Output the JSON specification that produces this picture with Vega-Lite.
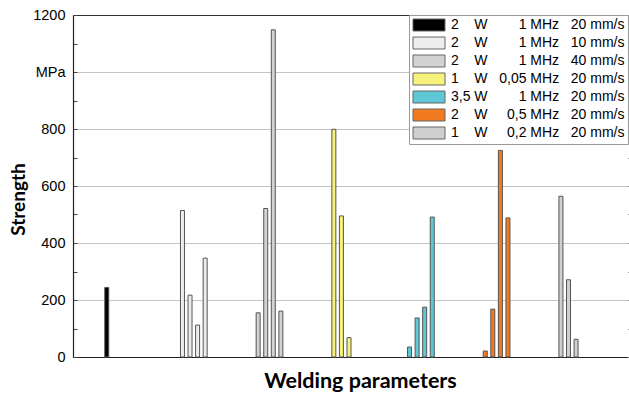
{
  "$schema": "https://vega.github.io/schema/vega-lite/v6.json",
  "width": 555,
  "height": 342,
  "autosize": {"type": "none"},
  "padding": {"left": 73, "top": 15, "right": 1, "bottom": 37},
  "background": "white",
  "config": {"view": {"stroke": null}, "font": "Liberation Sans"},
  "data": {
    "values": [
      {"setting": "2 W 1 MHz 20 mm/s", "slot": 4, "strength": 244},
      {"setting": "2 W 1 MHz 10 mm/s", "slot": 14, "strength": 514},
      {"setting": "2 W 1 MHz 10 mm/s", "slot": 15, "strength": 217},
      {"setting": "2 W 1 MHz 10 mm/s", "slot": 16, "strength": 112},
      {"setting": "2 W 1 MHz 10 mm/s", "slot": 17, "strength": 347},
      {"setting": "2 W 1 MHz 40 mm/s", "slot": 24, "strength": 155},
      {"setting": "2 W 1 MHz 40 mm/s", "slot": 25, "strength": 521},
      {"setting": "2 W 1 MHz 40 mm/s", "slot": 26, "strength": 1148},
      {"setting": "2 W 1 MHz 40 mm/s", "slot": 27, "strength": 161},
      {"setting": "1 W 0,05 MHz 20 mm/s", "slot": 34, "strength": 799},
      {"setting": "1 W 0,05 MHz 20 mm/s", "slot": 35, "strength": 495},
      {"setting": "1 W 0,05 MHz 20 mm/s", "slot": 36, "strength": 68},
      {"setting": "3,5 W 1 MHz 20 mm/s", "slot": 44, "strength": 35},
      {"setting": "3,5 W 1 MHz 20 mm/s", "slot": 45, "strength": 137},
      {"setting": "3,5 W 1 MHz 20 mm/s", "slot": 46, "strength": 175},
      {"setting": "3,5 W 1 MHz 20 mm/s", "slot": 47, "strength": 491},
      {"setting": "2 W 0,5 MHz 20 mm/s", "slot": 54, "strength": 21},
      {"setting": "2 W 0,5 MHz 20 mm/s", "slot": 55, "strength": 168},
      {"setting": "2 W 0,5 MHz 20 mm/s", "slot": 56, "strength": 725},
      {"setting": "2 W 0,5 MHz 20 mm/s", "slot": 57, "strength": 488},
      {"setting": "1 W 0,2 MHz 20 mm/s", "slot": 64, "strength": 564},
      {"setting": "1 W 0,2 MHz 20 mm/s", "slot": 65, "strength": 271},
      {"setting": "1 W 0,2 MHz 20 mm/s", "slot": 66, "strength": 62}
    ]
  },
  "layer": [
    {
      "mark": {"type": "bar", "size": 4, "stroke": "#555", "strokeWidth": 1},
      "encoding": {
        "x": {
          "field": "slot",
          "type": "quantitative",
          "scale": {"domain": [0.2, 72.2], "nice": false, "zero": false},
          "axis": {
            "title": "Welding parameters",
            "labels": false,
            "ticks": false,
            "grid": false,
            "domainColor": "#222",
            "domainWidth": 1.2,
            "titleFont": "Lato",
            "titleFontWeight": "bold",
            "titleFontSize": 21.5,
            "titleColor": "#000",
            "titleX": 287,
            "titleY": 24,
            "titleAlign": "center",
            "titleBaseline": "middle"
          }
        },
        "y": {
          "field": "strength",
          "type": "quantitative",
          "scale": {"domain": [0, 1200], "nice": false},
          "axis": {
            "title": "Strength",
            "values": [0, 100, 200, 300, 400, 500, 600, 700, 800, 900, 1000, 1100, 1200],
            "format": "d",
            "labelExpr": "datum.value % 200 != 0 ? '' : (datum.value == 1000 ? 'MPa' : datum.label)",
            "labelFont": "Liberation Sans",
            "labelFontSize": 14.5,
            "labelColor": "#000",
            "labelPadding": 12,
            "tickSize": -4,
            "tickColor": "#444",
            "domainColor": "#222",
            "domainWidth": 1.2,
            "grid": true,
            "gridColor": {"condition": {"test": "datum.value == 1200", "value": "#333"}, "value": "#c4c4c4"},
            "gridOpacity": {"condition": {"test": "datum.value % 200 == 0 && datum.value > 0", "value": 1}, "value": 0},
            "titleFont": "Lato",
            "titleFontWeight": "bold",
            "titleFontSize": 19,
            "titleColor": "#000",
            "titleX": -55,
            "titleY": 184,
            "titleAngle": -90,
            "titleAlign": "center",
            "titleBaseline": "middle"
          }
        },
        "fill": {
          "field": "setting",
          "type": "nominal",
          "scale": {
            "domain": ["2 W 1 MHz 20 mm/s", "2 W 1 MHz 10 mm/s", "2 W 1 MHz 40 mm/s", "1 W 0,05 MHz 20 mm/s", "3,5 W 1 MHz 20 mm/s", "2 W 0,5 MHz 20 mm/s", "1 W 0,2 MHz 20 mm/s"],
            "range": ["#000000", "#ededed", "#d2d2d2", "#f6f27c", "#5ec8d6", "#f27b22", "#cfcfcf"]
          },
          "legend": {
            "title": null,
            "orient": "top-right",
            "offset": 0,
            "padding": 3,
            "strokeColor": "#999",
            "fillColor": "white",
            "symbolType": "M-2.667,-1H2.667V1H-2.667Z",
            "symbolSize": 144,
            "symbolOffset": 10,
            "symbolStrokeColor": "#666",
            "symbolStrokeWidth": 1,
            "labelFont": "Liberation Sans",
            "labelFontSize": 14,
            "labelColor": "#000",
            "labelOffset": 15,
            "labelLimit": 300,
            "rowPadding": 2,
            "labelExpr": "datum.label == '2 W 1 MHz 20 mm/s' ? '2\u00a0\u00a0\u00a0\u00a0W\u00a0\u00a0\u00a0\u00a0\u00a0\u00a0\u00a0\u00a01\u00a0MHz\u00a0\u00a0\u00a020\u00a0mm/s' : datum.label == '2 W 1 MHz 10 mm/s' ? '2\u00a0\u00a0\u00a0\u00a0W\u00a0\u00a0\u00a0\u00a0\u00a0\u00a0\u00a0\u00a01\u00a0MHz\u00a0\u00a0\u00a010\u00a0mm/s' : datum.label == '2 W 1 MHz 40 mm/s' ? '2\u00a0\u00a0\u00a0\u00a0W\u00a0\u00a0\u00a0\u00a0\u00a0\u00a0\u00a0\u00a01\u00a0MHz\u00a0\u00a0\u00a040\u00a0mm/s' : datum.label == '1 W 0,05 MHz 20 mm/s' ? '1\u00a0\u00a0\u00a0\u00a0W\u00a0\u00a0\u00a00,05\u00a0MHz\u00a0\u00a0\u00a020\u00a0mm/s' : datum.label == '3,5 W 1 MHz 20 mm/s' ? '3,5\u00a0W\u00a0\u00a0\u00a0\u00a0\u00a0\u00a0\u00a0\u00a01\u00a0MHz\u00a0\u00a0\u00a020\u00a0mm/s' : datum.label == '2 W 0,5 MHz 20 mm/s' ? '2\u00a0\u00a0\u00a0\u00a0W\u00a0\u00a0\u00a0\u00a0\u00a00,5\u00a0MHz\u00a0\u00a0\u00a020\u00a0mm/s' : datum.label == '1 W 0,2 MHz 20 mm/s' ? '1\u00a0\u00a0\u00a0\u00a0W\u00a0\u00a0\u00a0\u00a0\u00a00,2\u00a0MHz\u00a0\u00a0\u00a020\u00a0mm/s' : datum.label"
          }
        }
      }
    },
    {
      "mark": {"type": "rule", "opacity": 0},
      "encoding": {
        "y": {
          "field": "strength",
          "type": "quantitative",
          "axis": {
            "orient": "right",
            "title": null,
            "labels": false,
            "domain": false,
            "grid": false,
            "values": [100, 200, 300, 400, 500, 600, 700, 800, 900, 1000, 1100],
            "tickSize": 2,
            "tickColor": "#444"
          }
        }
      }
    }
  ],
  "resolve": {"axis": {"y": "independent"}}
}
